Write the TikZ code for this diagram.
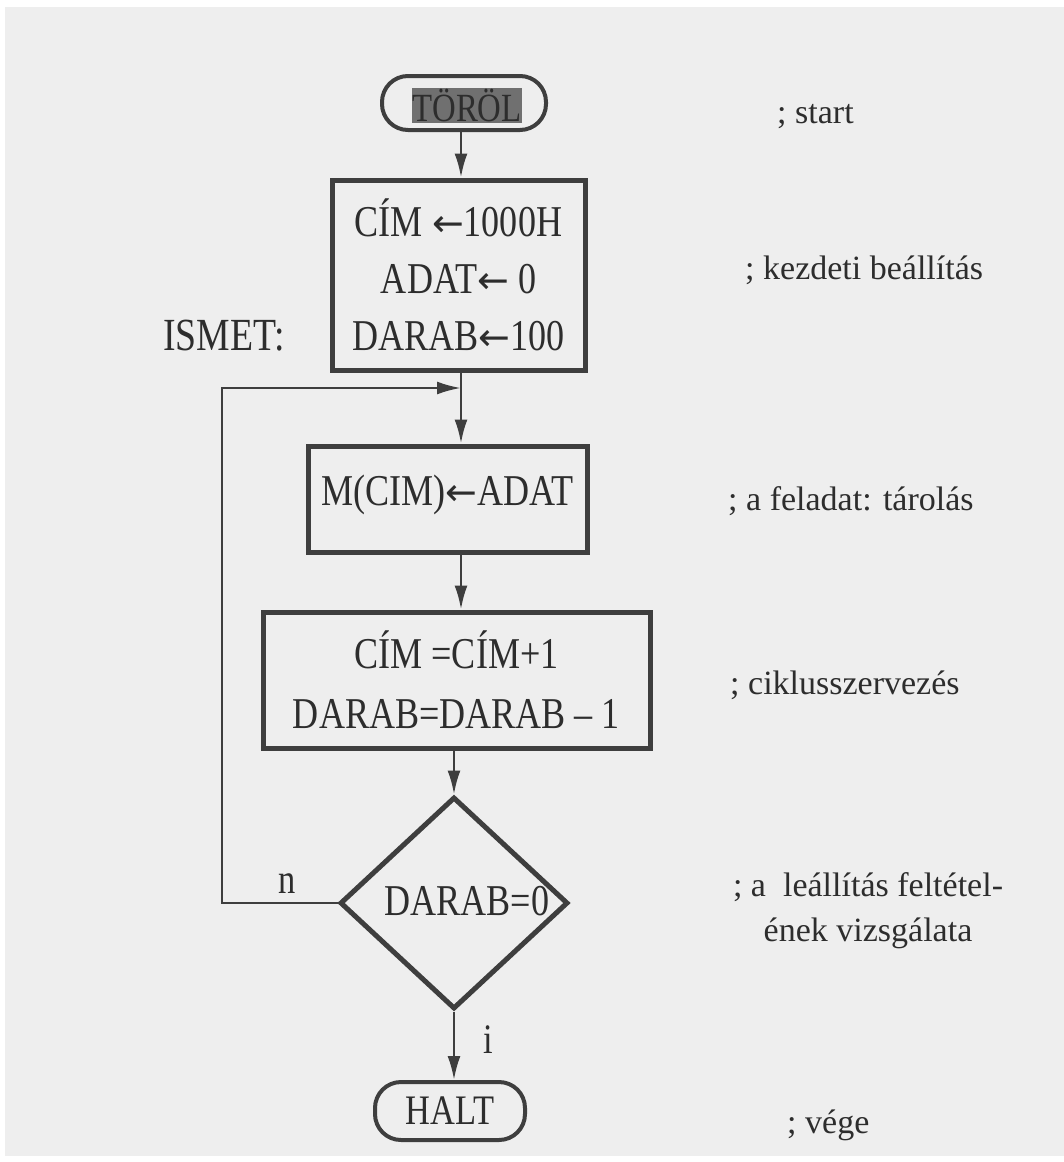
\documentclass[tikz,border=0pt]{standalone}
\usepackage{fontspec}
\setmainfont{Liberation Serif}
\newfontfamily\bfnt[FakeStretch=0.82]{Liberation Serif}
\newfontfamily\arrf{DejaVu Sans}
\usetikzlibrary{shapes.geometric,arrows.meta}
\definecolor{bg}{RGB}{238,238,238}
\definecolor{ink}{RGB}{62,62,62}
\definecolor{txt}{RGB}{45,45,45}
\definecolor{hl}{RGB}{112,112,112}
\newcommand\la{{\arrf\fontsize{38}{38}\selectfont ←}}
\begin{document}
\begin{tikzpicture}[x=1pt,y=-1pt,
  box/.style={draw=ink, line width=5pt, rectangle, inner sep=0pt,
    font=\bfnt\fontsize{44}{57}\selectfont, text=txt, align=center},
  term/.style={draw=ink, line width=4pt, rectangle, rounded corners=26pt, inner sep=0pt,
    font=\bfnt\fontsize{42}{50}\selectfont, text=txt},
  dec/.style={draw=ink, line width=5pt, diamond, inner sep=0pt,
    font=\bfnt\fontsize{44}{57}\selectfont, text=txt},
  cmt/.style={font=\fontsize{34}{45}\selectfont, text=txt, inner sep=0pt},
  lbl/.style={font=\bfnt\fontsize{42}{50}\selectfont, text=txt, inner sep=0pt},
  conn/.style={draw=ink, line width=2.6pt},
  arr/.style={conn, -{Latex[length=24pt,width=13pt]}}]
\useasboundingbox (0,0) rectangle (1064,1162);
\fill[white] (0,0) rectangle (1064,1162);
\fill[bg] (5,7) rectangle (1064,1156);

% nodes
\node[term, minimum width=164pt, minimum height=54pt] (start) at (464,103) {};
\node[fill=hl, text=txt, inner sep=0pt, minimum width=110pt, minimum height=35pt,
  font=\bfnt\fontsize{40}{48}\selectfont] (startt) at (467,105) {TÖRÖL};
\node[box, minimum width=253pt, minimum height=190pt] (b1) at (458.5,275)
  {CÍM \la1000H\\ADAT\la\ 0\\DARAB\la100};
\node[anchor=base west, lbl, font=\bfnt\fontsize{46}{50}\selectfont] (ismet) at (163,350) {ISMET:};
\node[box, minimum width=279pt, minimum height=106pt, text depth=18pt] (b2) at (447.5,499)
  {M(CIM)\la{}ADAT};
\node[box, minimum width=387pt, minimum height=136pt] (b3) at (456.5,680)
  {CÍM =CÍM+1\\[3pt]DARAB=DARAB – 1};
\node[dec, minimum width=228pt, minimum height=212pt] (d) at (454,903) {};
\node[font=\bfnt\fontsize{44}{57}\selectfont, text=txt, inner sep=0pt] (dt) at (467,901) {DARAB=0};
\node[term, minimum width=150pt, minimum height=58pt] (halt) at (450,1111) {HALT};

% comments
\node[cmt, anchor=base west] (c1) at (777,123) {; start};
\node[cmt, anchor=base west] (c2) at (745,279) {; kezdeti beállítás};
\node[cmt, anchor=base west] (c3) at (728,510) {; a feladat: tárolás};
\node[cmt, anchor=base west] (c4) at (730,694) {; ciklusszervezés};
\node[cmt, anchor=base, align=center] (c5) at (868,941) {; a~ leállítás feltétel-\\ének vizsgálata};
\node[cmt, anchor=base west] (c6) at (787,1133) {; vége};

% connectors
\coordinate (ax) at (461,0);
\coordinate (join) at (461,388);
\coordinate (lx) at (222,0);
\draw[arr] (start.south -| ax) -- (b1.north -| ax);
\draw[conn] (b1.south -| ax) -- (join);
\draw[arr] (join) -- (b2.north -| ax);
\draw[arr] (b2.south -| ax) -- (b3.north -| ax);
\draw[arr] (b3.south -| d.north) -- (d.north);
\draw[arr] (d.south) -- (halt.north -| d.south);
\draw[arr] (d.west) -- (d.west -| lx) |- (join);

\node[lbl] (n) at (287,884) {n};
\node[lbl] (i) at (488,1040) {i};
\end{tikzpicture}
\end{document}
